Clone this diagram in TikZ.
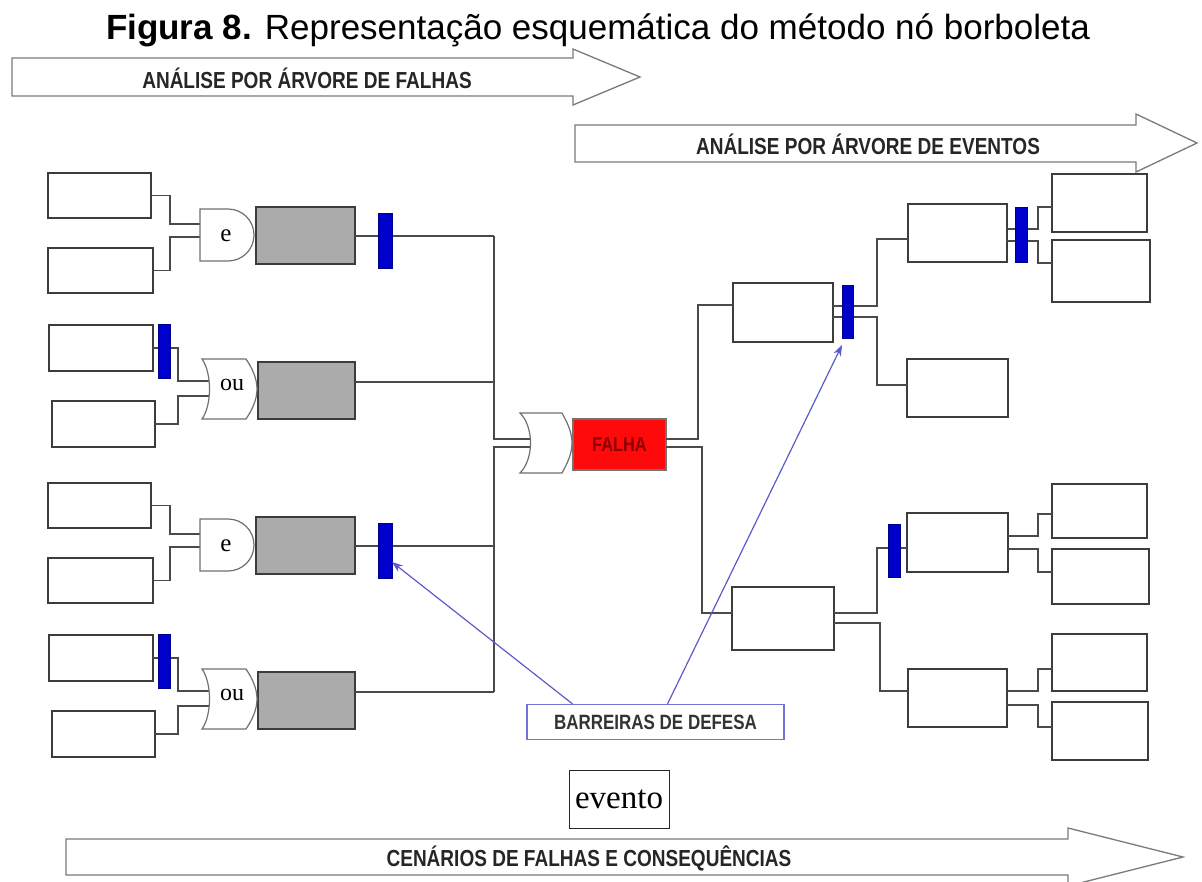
\documentclass[tikz,border=0pt]{standalone}
\usepackage{fontspec}
\setmainfont{Liberation Sans}
\newfontfamily\nar[FakeStretch=0.82]{Liberation Sans}
\newfontfamily\serifr{Liberation Serif}
\usetikzlibrary{arrows.meta,calc}
\definecolor{wirec}{HTML}{4A4A4A}
\definecolor{boxc}{HTML}{3C3C3C}
\definecolor{grayf}{HTML}{ABABAB}
\definecolor{barc}{HTML}{0000CC}
\definecolor{gatec}{HTML}{707070}
\definecolor{arrc}{HTML}{7A7A7A}
\definecolor{ptrc}{HTML}{5A5ACC}
\definecolor{falhar}{HTML}{FF0A0A}
\definecolor{falhat}{HTML}{8A0000}
\begin{document}
\begin{tikzpicture}[x=1pt,y=-1pt,
  box/.style={draw=boxc, line width=1.3pt, fill=white, inner sep=0pt, outer sep=0pt},
  gbox/.style={box, fill=grayf},
  barrier/.style={fill=barc, draw=barc!70!black, line width=0.4pt, inner sep=0pt, outer sep=0pt, minimum width=12pt},
  wire/.style={draw=wirec, line width=1.3pt},
  gate/.style={draw=gatec, line width=1.2pt, fill=white},
  bigarrow/.style={draw=arrc, line width=1.3pt, fill=white},
  pointer/.style={draw=ptrc, line width=1.2pt, -{Stealth[length=11pt,width=8pt]}},
  arrtext/.style={font=\nar\bfseries\fontsize{23.2}{25}\selectfont, text=black!85, inner sep=0pt},
  gatetext/.style={font=\serifr\fontsize{25}{27}\selectfont, inner sep=0pt}
]
\useasboundingbox (0,0) rectangle (1202,881);

% title
\node[font=\fontsize{35}{40}\selectfont, inner sep=0pt, anchor=base] (title) at (598,39) {\textbf{Figura 8.} Representação esquemática do método nó borboleta};

% big arrows
\draw[bigarrow] (12,58) -- (573,58) -- (573,49) -- (640,77) -- (573,105) -- (573,96) -- (12,96) -- cycle;
\node[arrtext] (t_ft) at (307,78) {ANÁLISE POR ÁRVORE DE FALHAS};
\draw[bigarrow] (575,125) -- (1136,125) -- (1136,114) -- (1197,143) -- (1136,172) -- (1136,162) -- (575,162) -- cycle;
\node[arrtext] (t_et) at (868,144) {ANÁLISE POR ÁRVORE DE EVENTOS};
\draw[bigarrow] (66,839) -- (1068,839) -- (1068,828) -- (1183,857) -- (1068,886) -- (1068,875) -- (66,875) -- cycle;
\node[arrtext] (t_sc) at (589,858) {CENÁRIOS DE FALHAS E CONSEQUÊNCIAS};

% ---------- coordinates (gate ports, trunk) ----------
\coordinate (g1i1) at (201,224); \coordinate (g1i2) at (201,237);
\coordinate (g2i1) at (214,381); \coordinate (g2i2) at (214,396);
\coordinate (g3i1) at (201,534); \coordinate (g3i2) at (201,547);
\coordinate (g4i1) at (214,691); \coordinate (g4i2) at (214,706);
\coordinate (t1) at (494,236); \coordinate (t2) at (494,382);
\coordinate (t3) at (494,546); \coordinate (t4) at (494,692);
\coordinate (mi1) at (534,439); \coordinate (mi2) at (534,447);

% ---------- left nodes ----------
\node[box, minimum width=103pt, minimum height=45pt] (a1) at (99.5,195.5) {};
\node[box, minimum width=105pt, minimum height=45pt] (a2) at (100.5,270.5) {};
\node[box, minimum width=104pt, minimum height=46pt] (b1) at (101,348) {};
\node[box, minimum width=103pt, minimum height=46pt] (b2) at (103.5,424) {};
\node[box, minimum width=103pt, minimum height=45pt] (a3) at (99.5,505.5) {};
\node[box, minimum width=105pt, minimum height=45pt] (a4) at (100.5,580.5) {};
\node[box, minimum width=104pt, minimum height=46pt] (b3) at (101,658) {};
\node[box, minimum width=103pt, minimum height=46pt] (b4) at (103.5,734) {};

\node[gbox, minimum width=99pt, minimum height=57pt] (s1) at (305.5,235.5) {};
\node[gbox, minimum width=97pt, minimum height=57pt] (s2) at (306.5,390.5) {};
\node[gbox, minimum width=99pt, minimum height=57pt] (s3) at (305.5,545.5) {};
\node[gbox, minimum width=97pt, minimum height=57pt] (s4) at (306.5,700.5) {};

% left wires
\draw[wire] (a1.east) -- ++(19,0) |- (g1i1);
\draw[wire] (a2.east) -- ++(17,0) |- (g1i2);
\draw[wire] (b1.east) -- ++(25,0) |- (g2i1);
\draw[wire] (b2.east) -- ++(23,0) |- (g2i2);
\draw[wire] (a3.east) -- ++(19,0) |- (g3i1);
\draw[wire] (a4.east) -- ++(17,0) |- (g3i2);
\draw[wire] (b3.east) -- ++(25,0) |- (g4i1);
\draw[wire] (b4.east) -- ++(23,0) |- (g4i2);
\draw[wire] ([yshift=-0.5pt]s1.east) -- (t1);
\draw[wire] ([yshift=8.5pt]s2.east) -- (t2);
\draw[wire] ([yshift=-0.5pt]s3.east) -- (t3);
\draw[wire] ([yshift=8.5pt]s4.east) -- (t4);
\draw[wire] (t1) |- (mi1);
\draw[wire] (t4) |- (mi2);

% gates
\draw[gate] (200,209) -- (228,209) .. controls (242.4,209) and (254,220.6) .. (254,235) .. controls (254,249.4) and (242.4,261) .. (228,261) -- (200,261) -- cycle;
\node[gatetext] (g1) at (226,236) {e};
\draw[gate] (202,359) -- (246,359) .. controls (252,368) and (257,378) .. (257,389) .. controls (257,400) and (252,410) .. (246,419) -- (202,419) .. controls (212,405) and (212,373) .. (202,359) -- cycle;
\node[gatetext, font=\serifr\fontsize{24}{26}\selectfont] (g2) at (232,385) {ou};
\draw[gate] (200,519) -- (228,519) .. controls (242.4,519) and (254,530.6) .. (254,545) .. controls (254,559.4) and (242.4,571) .. (228,571) -- (200,571) -- cycle;
\node[gatetext] (g3) at (226,546) {e};
\draw[gate] (202,669) -- (246,669) .. controls (252,678) and (257,688) .. (257,699) .. controls (257,710) and (252,720) .. (246,729) -- (202,729) .. controls (212,715) and (212,683) .. (202,669) -- cycle;
\node[gatetext, font=\serifr\fontsize{24}{26}\selectfont] (g4) at (232,695) {ou};

% barriers left
\node[barrier, minimum width=14pt, minimum height=55pt] (k1) at (385,240.5) {};
\node[barrier, minimum height=54pt] (k2) at (164,351) {};
\node[barrier, minimum width=14pt, minimum height=55pt] (k3) at (385,550.5) {};
\node[barrier, minimum height=54pt] (k4) at (164,661) {};

% main gate and top event
\draw[gate] (520,413) -- (562,413) .. controls (567,422) and (572,432) .. (572,443) .. controls (572,454) and (567,464) .. (562,473) -- (520,473) .. controls (534,459) and (534,427) .. (520,413) -- cycle;
\node[box, draw=black!55, fill=falhar, minimum width=93pt, minimum height=51pt,
      font=\nar\bfseries\fontsize{20}{22}\selectfont, text=falhat] (fa) at (619.5,444.5) {FALHA};

% ---------- right nodes ----------
\node[box, minimum width=100pt, minimum height=59pt] (e1) at (783,312.5) {};
\node[box, minimum width=102pt, minimum height=63pt] (e2) at (783,618.5) {};
\node[box, minimum width=99pt, minimum height=58pt] (f1) at (957.5,233) {};
\node[box, minimum width=101pt, minimum height=58pt] (f2) at (957.5,388) {};
\node[box, minimum width=101pt, minimum height=59pt] (f3) at (957.5,542.5) {};
\node[box, minimum width=99pt, minimum height=58pt] (f4) at (957.5,698) {};
\node[box, minimum width=95pt, minimum height=58pt] (h1) at (1099.5,203) {};
\node[box, minimum width=98pt, minimum height=62pt] (h2) at (1101,271) {};
\node[box, minimum width=95pt, minimum height=54pt] (h3) at (1099.5,511) {};
\node[box, minimum width=97pt, minimum height=55pt] (h4) at (1100.5,576.5) {};
\node[box, minimum width=95pt, minimum height=57pt] (h5) at (1099.5,662.5) {};
\node[box, minimum width=96pt, minimum height=58pt] (h6) at (1100,731) {};

% right wires
\draw[wire] ([yshift=5.5pt]fa.east) -| (698,305) -- ([yshift=7.5pt]e1.west);
\draw[wire] ([yshift=-2.5pt]fa.east) -| (702,613) -- ([yshift=5.5pt]e2.west);
\draw[wire] ([yshift=6.5pt]e1.east) -| (877,239) -- ([yshift=-6pt]f1.west);
\draw[wire] ([yshift=-4.5pt]e1.east) -| (877,385) -- ([yshift=3pt]f2.west);
\draw[wire] ([yshift=4pt]f1.east) -| (1038,207) -- ([yshift=-4pt]h1.west);
\draw[wire] ([yshift=-8pt]f1.east) -| (1038,263) -- ([yshift=8pt]h2.west);
\draw[wire] ([yshift=5.5pt]e2.east) -| (877,548) -- ([yshift=-5.5pt]f3.west);
\draw[wire] ([yshift=-4.5pt]e2.east) -| (880,691) -- ([yshift=7pt]f4.west);
\draw[wire] ([yshift=6.5pt]f3.east) -| (1038,514) -- ([yshift=-3pt]h3.west);
\draw[wire] ([yshift=-6.5pt]f3.east) -| (1038,572) -- ([yshift=4.5pt]h4.west);
\draw[wire] ([yshift=7pt]f4.east) -| (1038,669) -- ([yshift=-6.5pt]h5.west);
\draw[wire] ([yshift=-7pt]f4.east) -| (1038,727) -- ([yshift=4pt]h6.west);

% right barriers
\node[barrier, minimum width=11pt, minimum height=53pt] (r1) at (847.5,311.5) {};
\node[barrier, minimum height=55pt] (r2) at (1021,234.5) {};
\node[barrier, minimum height=53pt] (r3) at (894,550.5) {};

% barrier label and pointers
\node[draw=ptrc!85, line width=1.2pt, fill=white, minimum width=257pt, minimum height=35pt, inner sep=0pt,
      font=\nar\bfseries\fontsize{20.7}{22}\selectfont, text=black!80] (lbl) at (655.5,722) {BARREIRAS DE DEFESA};
\draw[pointer] ([xshift=-83pt]lbl.north) -- ([yshift=-11.5pt]k3.east);
\draw[pointer] ([xshift=12pt]lbl.north) -- ([xshift=-5.5pt,yshift=-7pt]r1.south);

% evento legend
\node[box, draw=black!85, line width=1pt, minimum width=100pt, minimum height=58pt,
      font=\serifr\fontsize{33}{35}\selectfont] (ev) at (619,799) {evento};
\end{tikzpicture}
\end{document}
